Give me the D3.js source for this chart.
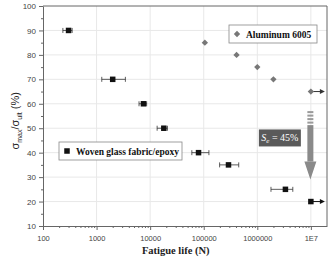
<!DOCTYPE html>
<html>
<head>
<meta charset="utf-8">
<script src="https://cdn.jsdelivr.net/npm/d3@7"></script>
<style>
  body { margin: 0; background: #fff; }
  svg { display: block; }
</style>
</head>
<body>
<div id="chart"></div>
<script>
// ========= Data ========= //
const glassLife = [300, 2000, 7500, 18000, 80000, 290000, 3350000, 10000000];
const glassStress = [90, 70, 60, 50, 40, 35, 25, 20];
const glassLo = [235, 1250, 6200, 13500, 60000, 198000, 1800000, null];
const glassHi = [350, 3450, 8600, 21000, 125000, 450000, 4600000, null];
const glassRunout = [false, false, false, false, false, false, false, true];

const aluLife = [105000, 410000, 1000000, 2000000, 10000000];
const aluStress = [85, 80, 75, 70, 65];
const aluRunout = [false, false, false, false, true];

const xTicks = [100, 1000, 10000, 100000, 1000000, 10000000];
const xTickLabels = ['100', '1000', '10000', '100000', '1000000', '1E7'];
const yTicks = [10, 20, 30, 40, 50, 60, 70, 80, 90, 100];

const enduranceLabel = '45%';
const enduranceFrom = 57;
const enduranceTo = 29;

// ========= Layout ========= //
const width = 330, height = 259;
const margin = { top: 6, right: 3, bottom: 33, left: 43 };
const innerW = width - margin.left - margin.right;
const innerH = height - margin.top - margin.bottom;
const serif = "'Liberation Serif', 'DejaVu Serif', serif";
const sans = "'Liberation Sans', Arial, sans-serif";

const svg = d3.select('#chart').append('svg')
  .attr('width', width)
  .attr('height', height);

const x = d3.scaleLog().domain([100, 2e7]).range([0, innerW]);
const y = d3.scaleLinear().domain([10, 100]).range([innerH, 0]);

const g = svg.append('g').attr('transform', `translate(${margin.left},${margin.top})`);

// ========= Grid ========= //
g.append('g').selectAll('line.gx')
  .data(xTicks.slice(1))
  .join('line')
  .attr('x1', (d) => x(d)).attr('x2', (d) => x(d))
  .attr('y1', 0).attr('y2', innerH)
  .attr('stroke', '#e8e8e8').attr('stroke-width', 1);

g.append('g').selectAll('line.gy')
  .data(yTicks.slice(1, -1))
  .join('line')
  .attr('x1', 0).attr('x2', innerW)
  .attr('y1', (d) => y(d)).attr('y2', (d) => y(d))
  .attr('stroke', '#e8e8e8').attr('stroke-width', 1);

// frame (top / right)
g.append('path')
  .attr('d', `M0,0H${innerW}V${innerH}`)
  .attr('fill', 'none')
  .attr('stroke', '#666')
  .attr('stroke-width', 1);

// ========= Axes ========= //
const axisColor = '#666';

const xMinor = [];
for (let e = 2; e <= 7; e++) {
  for (let m = 2; m <= 9; m++) {
    const v = m * Math.pow(10, e);
    if (v < 2e7) xMinor.push(v);
  }
}

const xAxis = g.append('g').attr('transform', `translate(0,${innerH})`)
  .call(d3.axisBottom(x).tickValues(xTicks).tickFormat((d, i) => xTickLabels[i]).tickSize(4).tickSizeOuter(0));
g.append('g').attr('transform', `translate(0,${innerH})`)
  .call(d3.axisBottom(x).tickValues(xMinor).tickFormat('').tickSize(2).tickSizeOuter(0))
  .call((s) => s.select('.domain').remove());

const yAxis = g.append('g')
  .call(d3.axisLeft(y).tickValues(yTicks).tickSize(4).tickSizeOuter(0));
g.append('g')
  .call(d3.axisLeft(y).tickValues(d3.range(15, 100, 10)).tickFormat('').tickSize(2).tickSizeOuter(0))
  .call((s) => s.select('.domain').remove());

g.selectAll('.domain, .tick line').attr('stroke', axisColor);
g.selectAll('.tick text')
  .attr('fill', '#444')
  .attr('font-family', sans)
  .attr('font-size', 8);
xAxis.selectAll('.tick text').attr('dy', '1.1em').attr('font-size', 7.5);

// ========= Axis titles ========= //
svg.append('text')
  .attr('x', margin.left + x(30000))
  .attr('y', 254)
  .attr('text-anchor', 'middle')
  .style('font-family', serif)
  .attr('font-weight', 'bold')
  .attr('font-size', 10.5)
  .attr('fill', '#222')
  .text('Fatigue life (N)');

const yTitle = svg.append('text')
  .attr('transform', `translate(19,${margin.top + y(53)}) rotate(-90)`)
  .attr('text-anchor', 'middle')
  .style('font-family', sans)
  .attr('font-size', 11)
  .attr('fill', '#222');
yTitle.append('tspan').text('σ');
yTitle.append('tspan').attr('font-size', 7).attr('dy', 3).text('max');
yTitle.append('tspan').attr('dy', -3).text('/σ');
yTitle.append('tspan').attr('font-size', 7).attr('dy', 3).text('ult');
yTitle.append('tspan').attr('dy', -3).text(' (%)');

// ========= Woven glass fabric/epoxy ========= //
const glass = glassLife.map((d, i) => ({
  life: d, stress: glassStress[i], lo: glassLo[i], hi: glassHi[i], runout: glassRunout[i]
}));

const glassG = g.append('g');
glassG.selectAll('g.err')
  .data(glass.filter((d) => d.lo !== null))
  .join('g')
  .each(function(d) {
    const s = d3.select(this);
    const yy = y(d.stress);
    s.append('line')
      .attr('x1', x(d.lo)).attr('x2', x(d.hi))
      .attr('y1', yy).attr('y2', yy)
      .attr('stroke', '#333').attr('stroke-width', 0.8);
    [d.lo, d.hi].forEach((v) => {
      s.append('line')
        .attr('x1', x(v)).attr('x2', x(v))
        .attr('y1', yy - 2.5).attr('y2', yy + 2.5)
        .attr('stroke', '#333').attr('stroke-width', 0.8);
    });
  });

// runout arrows
function runoutArrow(sel, data, color) {
  sel.selectAll(null)
    .data(data.filter((d) => d.runout))
    .join('g')
    .each(function(d) {
      const s = d3.select(this);
      const x0 = x(d.life), yy = y(d.stress);
      s.append('line')
        .attr('x1', x0).attr('x2', x0 + 10)
        .attr('y1', yy).attr('y2', yy)
        .attr('stroke', color).attr('stroke-width', 1);
      s.append('path')
        .attr('d', `M${x0 + 14},${yy}L${x0 + 9},${yy - 2.5}L${x0 + 9},${yy + 2.5}Z`)
        .attr('fill', color);
    });
}
runoutArrow(glassG, glass, '#111');

glassG.selectAll('rect.pt')
  .data(glass)
  .join('rect')
  .attr('x', (d) => x(d.life) - 2.75)
  .attr('y', (d) => y(d.stress) - 2.75)
  .attr('width', 5.5).attr('height', 5.5)
  .attr('fill', '#111');

// ========= Aluminum 6005 ========= //
const alu = aluLife.map((d, i) => ({ life: d, stress: aluStress[i], runout: aluRunout[i] }));
const aluG = g.append('g');
runoutArrow(aluG, alu, '#333');

const diamond = d3.symbol().type(d3.symbolSquare).size(20);
aluG.selectAll('path.pt')
  .data(alu)
  .join('path')
  .attr('transform', (d) => `translate(${x(d.life)},${y(d.stress)}) rotate(45)`)
  .attr('d', diamond)
  .attr('fill', '#777');

// ========= Endurance arrow ========= //
const ax = x(1e7) - 0.5;
const arrowG = g.append('g');
const yTop = y(enduranceFrom), yTip = y(enduranceTo), yHeadStart = yTip - 18;
[0, 1, 2, 3].forEach((i) => {
  arrowG.append('rect')
    .attr('x', ax - 3).attr('y', yTop + i * 3.5)
    .attr('width', 6).attr('height', 2)
    .attr('fill', '#9a9a9a');
});
arrowG.append('rect')
  .attr('x', ax - 3).attr('y', yTop + 14)
  .attr('width', 6).attr('height', yHeadStart - yTop - 14)
  .attr('fill', '#8a8a8a');
arrowG.append('path')
  .attr('d', `M${ax - 6},${yHeadStart}L${ax + 6},${yHeadStart}L${ax},${yTip}Z`)
  .attr('fill', '#8a8a8a');

const lab = g.append('g').attr('transform', `translate(${x(1e7) - 52},${y(49.5)})`);
lab.append('rect')
  .attr('width', 42).attr('height', 17)
  .attr('fill', '#5a5a5a');
const labText = lab.append('text')
  .attr('x', 21).attr('y', 12)
  .attr('text-anchor', 'middle')
  .style('font-family', serif)
  .attr('font-size', 10)
  .attr('fill', '#fff');
labText.append('tspan').attr('font-style', 'italic').text('S');
labText.append('tspan').attr('font-style', 'italic').attr('font-size', 7).attr('dy', 2).text('e');
labText.append('tspan').attr('dy', -2).text(' = ' + enduranceLabel);

// ========= Legends ========= //
function legend(px, py, w, label, drawMarker) {
  const lg = svg.append('g').attr('transform', `translate(${px},${py})`);
  lg.append('rect')
    .attr('width', w).attr('height', 18)
    .attr('fill', '#fff')
    .attr('stroke', '#888').attr('stroke-width', 0.8);
  drawMarker(lg.append('g').attr('transform', 'translate(8,9)'));
  lg.append('text')
    .attr('x', 17).attr('y', 12.5)
    .style('font-family', serif)
    .attr('font-weight', 'bold')
    .attr('font-size', 9.5)
    .attr('fill', '#111')
    .text(label);
}

legend(229, 25, 88, 'Aluminum 6005', (m) => {
  m.append('path').attr('d', diamond).attr('transform', 'rotate(45)').attr('fill', '#777');
});
legend(59, 142, 123, 'Woven glass fabric/epoxy', (m) => {
  m.append('rect').attr('x', -2.75).attr('y', -2.75).attr('width', 5.5).attr('height', 5.5).attr('fill', '#111');
});
</script>
</body>
</html>
